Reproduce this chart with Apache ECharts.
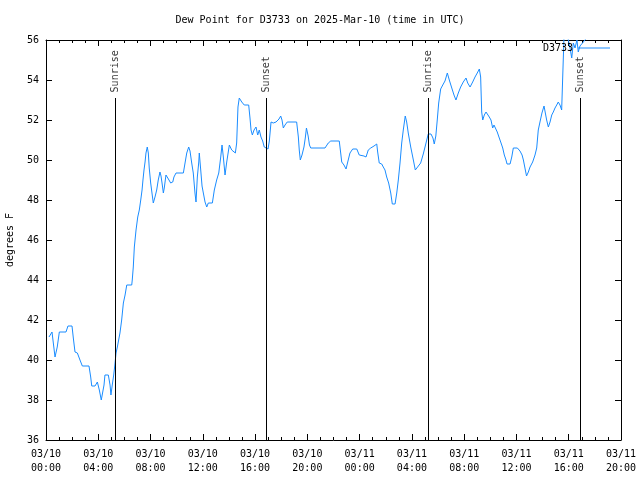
<!DOCTYPE html>
<html><head><meta charset="utf-8">
<script src="https://cdn.jsdelivr.net/npm/echarts@6/dist/echarts.min.js"></script>
<style>html,body{margin:0;padding:0;background:#fff}#c{width:640px;height:480px}</style>
</head><body><div id="c"></div>
<script>
// hours since 2025-03-10 00:00 UTC
const hours = [0.23,0.46,0.56,0.69,0.86,1.02,1.53,1.68,1.99,2.09,2.22,2.40,2.60,2.78,3.29,3.42,3.50,3.75,3.93,4.08,
4.23,4.44,4.51,4.77,4.90,4.97,5.07,5.18,5.26,5.36,5.46,5.66,5.79,5.92,6.05,6.18,6.56,6.60,6.68,6.76,
6.89,7.02,7.14,7.25,7.35,7.42,7.50,7.58,7.65,7.75,7.83,7.90,8.01,8.11,8.21,8.34,8.47,8.59,8.72,8.80,
8.88,8.98,9.05,9.18,9.28,9.41,9.54,9.70,9.79,9.95,10.51,10.64,10.77,10.92,11.02,11.15,11.27,11.40,11.48,11.58,
11.69,11.73,11.84,11.94,12.04,12.17,12.30,12.42,12.73,12.88,13.06,13.22,13.37,13.47,13.57,13.70,13.83,14.03,14.21,14.49,
14.59,14.69,14.79,14.98,15.17,15.51,15.61,15.69,15.79,15.92,16.07,16.20,16.32,16.45,16.58,16.70,16.83,16.99,17.09,17.22,
17.39,17.60,17.83,17.96,18.06,18.16,18.29,18.46,19.18,19.31,19.38,19.46,19.59,19.74,19.84,19.93,20.06,20.16,20.26,21.35,
21.60,21.79,22.44,22.55,22.63,22.80,22.96,23.09,23.26,23.47,23.78,23.97,24.33,24.49,24.66,24.85,25.10,25.31,25.38,25.50,
25.69,25.81,25.94,26.07,26.22,26.38,26.50,26.71,26.84,26.96,27.09,27.22,27.34,27.49,27.60,27.72,27.91,28.11,28.26,28.41,
28.67,28.87,29.08,29.25,29.46,29.61,29.71,29.83,29.94,30.05,30.20,30.36,30.53,30.71,30.86,31.05,31.22,31.37,31.55,31.73,
31.93,32.14,32.27,32.45,32.65,32.83,33.00,33.16,33.26,33.34,33.42,33.54,33.67,33.80,33.92,34.05,34.18,34.28,34.41,34.53,
34.66,34.82,34.95,35.07,35.20,35.28,35.51,35.64,35.76,35.87,36.07,36.27,36.43,36.53,36.65,36.77,36.91,37.04,37.24,37.42,
37.55,37.67,37.80,37.95,38.11,38.21,38.31,38.44,38.57,38.70,38.82,38.95,39.08,39.20,39.33,39.46,39.54,39.64,39.79,39.94,
40.10,40.23,40.35,40.48,40.63,40.73,40.86,41.12,41.30];
const dewPoint = [41.15,41.4,40.85,40.15,40.65,41.4,41.4,41.7,41.7,41.1,40.4,40.35,40.0,39.7,39.7,39.15,38.7,38.7,38.9,38.5,
38.0,38.75,39.25,39.25,38.75,38.25,38.75,39.25,39.7,40.35,40.65,41.35,42.0,42.85,43.25,43.75,43.75,44.0,44.65,45.65,
46.5,47.15,47.5,48.0,48.5,49.0,49.5,49.9,50.35,50.65,50.35,49.6,48.85,48.35,47.85,48.15,48.5,49.0,49.4,49.2,
48.85,48.35,48.6,49.25,49.15,49.0,48.85,48.9,49.15,49.35,49.35,49.85,50.35,50.65,50.45,49.85,49.35,48.35,47.9,49.15,
49.9,50.35,49.5,48.7,48.35,47.9,47.65,47.85,47.85,48.5,49.0,49.35,50.15,50.75,50.15,49.25,49.9,50.75,50.5,50.35,
50.85,52.65,53.1,52.9,52.75,52.75,52.1,51.5,51.25,51.5,51.65,51.25,51.5,51.15,50.95,50.65,50.55,50.55,50.95,51.9,
51.85,51.9,52.05,52.2,52.0,51.6,51.75,51.9,51.9,51.15,50.5,50.0,50.25,50.65,51.1,51.6,51.2,50.75,50.6,50.6,
50.85,50.95,50.95,50.35,49.9,49.75,49.55,49.9,50.35,50.55,50.55,50.25,50.2,50.15,50.5,50.6,50.7,50.8,50.4,49.85,
49.8,49.65,49.5,49.15,48.85,48.35,47.8,47.8,48.35,49.0,49.85,50.85,51.5,52.2,51.9,51.35,50.65,50.0,49.5,49.6,
49.85,50.3,50.85,51.3,51.3,51.1,50.8,51.2,52.0,52.85,53.55,53.75,53.95,54.35,54.0,53.6,53.25,53.0,53.35,53.65,
53.9,54.1,53.85,53.65,53.9,54.15,54.35,54.55,54.15,52.4,52.0,52.25,52.4,52.5,52.15,52.0,51.6,51.75,51.65,51.4,
51.15,50.85,50.6,50.25,50.0,49.8,49.8,50.15,50.6,50.7,50.6,50.45,50.25,50.0,49.6,49.2,49.4,49.65,49.9,50.25,
50.6,51.5,51.9,52.35,52.7,52.35,52.0,51.65,51.9,52.25,52.4,52.6,52.75,52.9,52.75,52.5,54.15,56.2,56.3,56.1,
55.6,55.1,55.85,55.6,56.0,55.4,55.7,55.9,56.05];
const eventNames = ['Sunrise','Sunset','Sunrise','Sunset'];
const eventHours = [5.30,16.86,29.25,40.89];
const yTicks = [36,38,40,42,44,46,48,50,52,54,56];
const xMin = 0, xMax = 44, xStep = 4;
const seriesName = 'D3733';
const titleText = 'Dew Point for D3733 on 2025-Mar-10 (time in UTC)';

const FONT = 'DejaVu Sans Mono';
const BLUE = '#1a8cff';
function pad(n){return (n<10?'0':'')+n;}
function xLabel(v){
  const d = 10 + Math.floor(v/24);
  const h = Math.round(v % 24);
  return '03/' + pad(d) + '\n' + pad(h) + ':00';
}
const chart = echarts.init(document.getElementById('c'), null, {renderer:'canvas'});
const lineTop = 53.1, labelY = 53.38;
chart.setOption({
  animation:false,
  backgroundColor:'#fff',
  title:{text:titleText,left:'center',top:10,textStyle:{fontFamily:FONT,fontSize:10,fontWeight:'normal',color:'#000'}},
  legend:{data:[{name:seriesName,icon:'rect'}],right:30,top:43,align:'right',itemWidth:32,itemHeight:1,itemGap:4,
    textStyle:{fontFamily:FONT,fontSize:10,color:'#000',padding:[0,0,0,0]},padding:0},
  grid:{left:46,right:19,top:40,bottom:40,containLabel:false,outerBoundsMode:'none'},
  xAxis:[{type:'value',min:xMin,max:xMax,interval:xStep,position:'bottom',
      axisLine:{show:true,onZero:false,lineStyle:{color:'#000',width:1}},
      axisTick:{show:true,inside:true,length:6,lineStyle:{color:'#000'}},
      minorTick:{show:true,splitNumber:4,length:3,lineStyle:{color:'#000'}},
      splitLine:{show:false},
      axisLabel:{formatter:xLabel,fontFamily:FONT,fontSize:10,color:'#000',lineHeight:14,margin:7,showMaxLabel:true,showMinLabel:true}},
    {type:'value',min:xMin,max:xMax,interval:xStep,position:'top',
      axisLine:{show:true,onZero:false,lineStyle:{color:'#000',width:1}},
      axisTick:{show:true,inside:true,length:6,lineStyle:{color:'#000'}},
      minorTick:{show:true,splitNumber:4,length:3,lineStyle:{color:'#000'}},
      splitLine:{show:false},axisLabel:{show:false}}],
  yAxis:[{type:'value',min:yTicks[0],max:yTicks[yTicks.length-1],interval:2,position:'left',
      name:'degrees F',nameLocation:'middle',nameGap:31,nameRotate:90,
      nameTextStyle:{fontFamily:FONT,fontSize:10,color:'#000'},
      axisLine:{show:true,onZero:false,lineStyle:{color:'#000',width:1}},
      axisTick:{show:true,inside:true,length:6,lineStyle:{color:'#000'}},
      splitLine:{show:false},
      axisLabel:{fontFamily:FONT,fontSize:10,color:'#000',margin:7}},
    {type:'value',min:yTicks[0],max:yTicks[yTicks.length-1],interval:2,position:'right',
      axisLine:{show:true,onZero:false,lineStyle:{color:'#000',width:1}},
      axisTick:{show:true,inside:true,length:6,lineStyle:{color:'#000'}},
      splitLine:{show:false},axisLabel:{show:false}}],
  series:[
    {name:seriesName,type:'line',xAxisIndex:0,yAxisIndex:0,showSymbol:false,symbol:'none',clip:true,
      data:hours.map((h,i)=>[h,dewPoint[i]]),
      lineStyle:{color:BLUE,width:1},itemStyle:{color:BLUE},
      markLine:{silent:true,symbol:['none','none'],label:{show:false},
        lineStyle:{color:'#000',width:1,type:'solid'},
        data:eventHours.map(h=>[{coord:[h,yTicks[0]]},{coord:[h,lineTop]}])}},
    {name:'events',type:'scatter',xAxisIndex:0,yAxisIndex:0,symbolSize:0,silent:true,
      data:eventHours.map((h,i)=>({value:[h,labelY],name:eventNames[i]})),
      label:{show:true,position:'inside',formatter:p=>p.name,rotate:90,align:'left',verticalAlign:'middle',
        fontFamily:FONT,fontSize:10,color:'#000'}}
  ]
});
</script></body></html>
